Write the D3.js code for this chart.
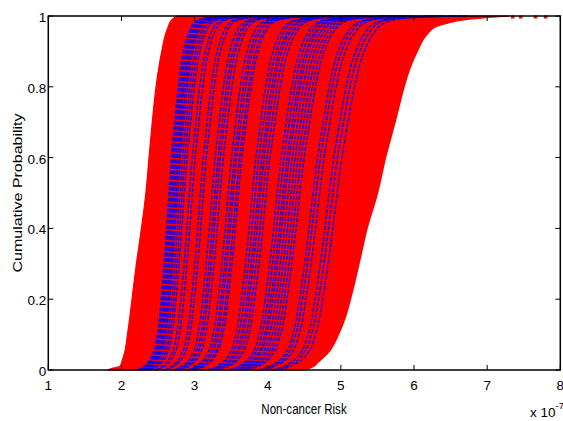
<!DOCTYPE html>
<html>
<head>
<meta charset="utf-8">
<script src="https://cdn.jsdelivr.net/npm/d3@7"></script>
<style>
  html, body { margin: 0; padding: 0; background: #fff; }
  svg { display: block; }
  text { font-family: "Liberation Sans", Arial, sans-serif; fill: #000; }
</style>
</head>
<body>
<svg id="chart" width="563" height="421"></svg>
<script>
// Probability levels at which the outer envelope of all CDF curves is sampled
const envProbs = [0, 0.005, 0.01, 0.02, 0.05, 0.1, 0.15, 0.2, 0.3, 0.4, 0.5, 0.6, 0.7, 0.8, 0.85, 0.9, 0.95, 0.97, 0.98, 0.99, 0.995, 1];
// Left-most risk (x 1e-7) reached by any curve at each level
const envLeft  = [1.818, 1.873, 1.982, 2.000, 2.044, 2.082, 2.115, 2.144, 2.204, 2.273, 2.334, 2.377, 2.421, 2.473, 2.507, 2.551, 2.605, 2.640, 2.660, 2.695, 2.723, 2.763];
// Right-most risk (x 1e-7) reached by any curve at each level
const envRight = [4.516, 4.570, 4.626, 4.680, 4.831, 4.968, 5.064, 5.132, 5.249, 5.359, 5.502, 5.612, 5.742, 5.866, 5.941, 6.044, 6.188, 6.297, 6.462, 6.708, 6.982, 7.297];

// Isolated upper-tail maxima along P = 1
const tailMax = [7.36, 7.47, 7.67, 7.81];

// Common CDF shape of a single curve: risk relative to the curve's median
const shapeProbs = [0, 0.01, 0.02, 0.05, 0.1, 0.2, 0.3, 0.4, 0.5, 0.6, 0.7, 0.8, 0.9, 0.95, 0.98, 0.99, 0.995, 1];
const shapeRel   = [0.84, 0.87, 0.89, 0.92, 0.94, 0.96, 0.975, 0.988, 1.0, 1.013, 1.03, 1.048, 1.075, 1.10, 1.13, 1.16, 1.2, 1.36];

// Medians (x 1e-7) of the dashed blue CDF curves
const blueMedians = [
  2.65, 2.67, 2.69, 2.71, 2.73, 2.75, 2.77, 2.80, 2.83, 2.86,
  2.93, 2.97,
  3.08, 3.12,
  3.24, 3.28, 3.31, 3.35,
  3.46, 3.50, 3.53, 3.57, 3.60,
  3.79, 3.83, 3.87, 3.90, 3.94, 3.98,
  4.13, 4.17, 4.21, 4.24, 4.28, 4.32, 4.36, 4.40, 4.44,
  4.62, 4.66, 4.71,
  4.84, 4.89, 4.95
];

const xTicks = [1, 2, 3, 4, 5, 6, 7, 8];
const yTicks = [0, 0.2, 0.4, 0.6, 0.8, 1];

const svg = d3.select("#chart");
const mLeft = 48.3, mRight = 560.3, mTop = 16, mBottom = 370;

const x = d3.scaleLinear().domain([1, 8]).range([mLeft, mRight]);
const y = d3.scaleLinear().domain([0, 1]).range([mBottom, mTop]);

const plot = svg.append("g");

// Filled band covering the bundle of red CDF curves
const band = envProbs.map((p, i) => ({ p, l: envLeft[i], r: envRight[i] }));
plot.append("path")
  .datum(band)
  .attr("fill", "#ff0000")
  .attr("stroke", "#ff0000")
  .attr("stroke-width", 1.2)
  .attr("d", d3.area()
    .y(d => y(d.p))
    .x0(d => x(d.l))
    .x1(d => x(d.r))
    .curve(d3.curveMonotoneY));

// Tail maxima reaching the top of the axes
plot.selectAll("line.tail")
  .data(tailMax)
  .join("line")
  .attr("class", "tail")
  .attr("x1", d => x(d) - 2.5).attr("x2", d => x(d) + 1)
  .attr("y1", y(1) + 1).attr("y2", y(1) + 1)
  .attr("stroke", "#ff0000").attr("stroke-width", 3);

// Dashed blue CDF curves
const curveLine = d3.line()
  .x(d => x(d.v))
  .y(d => y(d.p))
  .curve(d3.curveMonotoneY);

plot.selectAll("path.blue")
  .data(blueMedians)
  .join("path")
  .attr("class", "blue")
  .attr("fill", "none")
  .attr("stroke", "#0000ff")
  .attr("stroke-width", 1.3)
  .attr("stroke-dasharray", "4,1.5")
  .attr("d", m => curveLine(shapeProbs.map((p, i) => ({ p, v: m * shapeRel[i] }))));

// Axes box with inward ticks
const axes = svg.append("g");
axes.append("rect")
  .attr("x", mLeft).attr("y", mTop)
  .attr("width", mRight - mLeft).attr("height", mBottom - mTop)
  .attr("fill", "none").attr("stroke", "#000").attr("stroke-width", 1.5);

const tickLen = 5;
xTicks.forEach(t => {
  axes.append("line").attr("x1", x(t)).attr("x2", x(t)).attr("y1", mBottom).attr("y2", mBottom - tickLen).attr("stroke", "#000");
  axes.append("line").attr("x1", x(t)).attr("x2", x(t)).attr("y1", mTop).attr("y2", mTop + tickLen).attr("stroke", "#000");
});
yTicks.forEach(t => {
  axes.append("line").attr("x1", mLeft).attr("x2", mLeft + tickLen).attr("y1", y(t)).attr("y2", y(t)).attr("stroke", "#000");
  axes.append("line").attr("x1", mRight).attr("x2", mRight - tickLen).attr("y1", y(t)).attr("y2", y(t)).attr("stroke", "#000");
});

// Tick labels
svg.append("g").selectAll("text")
  .data(xTicks)
  .join("text")
  .attr("x", d => x(d)).attr("y", mBottom + 20)
  .attr("text-anchor", "middle")
  .attr("font-size", 13.5)
  .text(d => d);

svg.append("g").selectAll("text")
  .data(yTicks)
  .join("text")
  .attr("x", mLeft - 2).attr("y", d => y(d) + 6)
  .attr("text-anchor", "end")
  .attr("font-size", 13.5)
  .text(d => d);

// Axis titles
svg.append("text")
  .attr("transform", "translate(304,414) scale(0.77,1)")
  .attr("text-anchor", "middle")
  .attr("font-size", 15)
  .text("Non-cancer Risk");

svg.append("text")
  .attr("transform", `translate(22,${(mTop + mBottom) / 2}) scale(0.8,1) rotate(-90)`)
  .attr("text-anchor", "middle")
  .attr("font-size", 16)
  .text("Cumulative Probability");

// Exponent of the x axis
const expo = svg.append("text").attr("x", 530).attr("y", 417).attr("font-size", 13.5);
expo.append("tspan").text("x 10");
expo.append("tspan").attr("dy", -8).attr("font-size", 9.5).text("-7");
</script>
</body>
</html>
